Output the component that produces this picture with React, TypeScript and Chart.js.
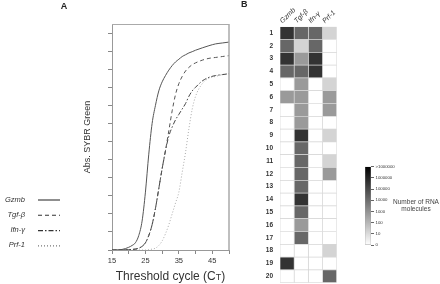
import React, { useEffect, useRef } from "react";
import { Chart, registerables } from "chart.js";

Chart.register(...registerables);

const FONT = "'Liberation Sans', Arial, sans-serif";

// ---- Panel A data ----
const cycles = [15, 18, 20, 21, 22, 23, 24, 25, 26, 27, 28, 29, 30, 31, 32, 33, 34, 35, 36, 37, 38, 39, 40, 42, 44, 46, 48, 50];
const gzmbCurve = [0, 0.03, 0.15, 0.25, 0.4, 0.8, 1.6, 3.2, 5.3, 7.0, 8.0, 8.8, 9.3, 9.65, 9.95, 10.2, 10.4, 10.55, 10.7, 10.8, 10.9, 10.97, 11.05, 11.18, 11.3, 11.4, 11.45, 11.5];
const tgfCurve = [0, 0, 0.02, 0.03, 0.05, 0.1, 0.2, 0.4, 0.8, 1.4, 2.3, 3.4, 4.5, 5.5, 6.6, 7.7, 8.6, 9.2, 9.6, 9.9, 10.1, 10.25, 10.35, 10.5, 10.6, 10.65, 10.7, 10.75];
const ifnCurve = [0, 0, 0.02, 0.03, 0.05, 0.1, 0.2, 0.4, 0.8, 1.4, 2.3, 3.4, 4.5, 5.5, 6.3, 6.8, 7.2, 7.5, 7.8, 8.1, 8.5, 8.8, 9.0, 9.35, 9.55, 9.65, 9.7, 9.75];
const prfCurve = [0, 0, 0, 0, 0, 0, 0, 0, 0.02, 0.05, 0.1, 0.25, 0.5, 0.9, 1.4, 2.0, 2.6, 3.2, 4.3, 5.4, 6.7, 7.8, 8.5, 9.2, 9.5, 9.6, 9.7, 9.75];
const seriesNames = ["Gzmb", "Tgf-β", "Ifn-γ", "Prf-1"];
const xTicks = [15, 20, 25, 30, 35, 40, 45, 50];
const xTickLabels = [15, 25, 35, 45];
const yTicks = [0, 1, 2, 3, 4, 5, 6, 7, 8, 9, 10, 11, 12];
const xTitle = "Threshold cycle (C";
const xTitleSub = "T";
const yTitle = "Abs. SYBR Green";

// ---- Panel B data (number of RNA molecules) ----
const sampleRows = ["1", "2", "3", "4", "5", "6", "7", "8", "9", "10", "11", "12", "13", "14", "15", "16", "17", "18", "19", "20"];
const genes = ["Gzmb", "Tgf-β", "Ifn-γ", "Prf-1"];
const gzmbRNA = [400000, 15000, 400000, 15000, 0, 600, 0, 0, 0, 0, 0, 0, 0, 0, 0, 0, 0, 0, 400000, 0];
const tgfRNA = [15000, 15, 600, 15000, 600, 600, 600, 600, 400000, 15000, 15000, 15000, 15000, 400000, 15000, 600, 15000, 0, 0, 0];
const ifnRNA = [15000, 15000, 400000, 400000, 0, 0, 0, 0, 0, 0, 0, 0, 0, 0, 0, 0, 0, 0, 0, 0];
const prfRNA = [15, 0, 0, 0, 15, 600, 600, 0, 15, 0, 15, 600, 0, 0, 0, 0, 0, 15, 0, 15000];
const colorbarLabels = ["0", "10", "100", "1000", "10000", "100000", "1000000", ">1000000"];
const colorbarTitle = ["Number of RNA", "molecules"];

const LEVELS = colorbarLabels.length - 1;

function grayFor(count: number): string {
  const lvl = count <= 0 ? 0 : Math.min(LEVELS, Math.log10(count));
  const g = Math.round(255 * (1 - lvl / LEVELS));
  return `rgb(${g},${g},${g})`;
}

const lineStyles = [
  { color: "#555", dash: [] as number[], legend: "#333" },
  { color: "#555", dash: [4, 3], legend: "#333" },
  { color: "#444", dash: [5, 2, 1.5, 2], legend: "#333" },
  { color: "#aaa", dash: [1, 2], legend: "#777" },
];

export default function App() {
  const aRef = useRef<HTMLCanvasElement>(null);
  const bRef = useRef<HTMLCanvasElement>(null);
  const cRef = useRef<HTMLCanvasElement>(null);

  useEffect(() => {
    const curves = [gzmbCurve, tgfCurve, ifnCurve, prfCurve];

    const panelAText = {
      id: "panelAText",
      afterDraw(chart: any) {
        const ctx = chart.ctx;
        const area = chart.chartArea;
        ctx.save();
        ctx.strokeStyle = "#aaa";
        ctx.lineWidth = 1;
        ctx.beginPath();
        ctx.moveTo(area.left, area.top + 0.5);
        ctx.lineTo(area.right, area.top + 0.5);
        ctx.stroke();
        ctx.lineWidth = 1.5;
        ctx.beginPath();
        ctx.moveTo(area.right, area.top);
        ctx.lineTo(area.right, area.bottom);
        ctx.stroke();

        ctx.fillStyle = "#222";
        ctx.textAlign = "center";
        ctx.textBaseline = "middle";
        ctx.font = `bold 9px ${FONT}`;
        ctx.fillText("A", 64, 7);

        ctx.save();
        ctx.translate(88, (area.top + area.bottom) / 2);
        ctx.rotate(-Math.PI / 2);
        ctx.font = `9px ${FONT}`;
        ctx.fillStyle = "#333";
        ctx.fillText(yTitle, 0, 0);
        ctx.restore();

        ctx.font = `12px ${FONT}`;
        const w1 = ctx.measureText(xTitle).width;
        ctx.font = `9px ${FONT}`;
        const w2 = ctx.measureText(xTitleSub).width;
        ctx.font = `12px ${FONT}`;
        const w3 = ctx.measureText(")").width;
        const total = w1 + w2 + w3;
        let x = (area.left + area.right) / 2 - total / 2;
        const yb = 280;
        ctx.textAlign = "left";
        ctx.textBaseline = "alphabetic";
        ctx.fillStyle = "#333";
        ctx.fillText(xTitle, x, yb);
        x += w1;
        ctx.font = `9px ${FONT}`;
        ctx.fillText(xTitleSub, x, yb);
        x += w2;
        ctx.font = `12px ${FONT}`;
        ctx.fillText(")", x, yb);

        chart.data.datasets.forEach((ds: any, i: number) => {
          const y = 199.5 + i * 15.3;
          ctx.font = `italic 7.5px ${FONT}`;
          ctx.textAlign = "right";
          ctx.textBaseline = "middle";
          ctx.fillStyle = "#333";
          ctx.fillText(ds.label, 25, y);
          ctx.strokeStyle = lineStyles[i].legend;
          ctx.lineWidth = 1.1;
          ctx.setLineDash(ds.borderDash || []);
          ctx.beginPath();
          ctx.moveTo(38, y + 0.5);
          ctx.lineTo(60, y + 0.5);
          ctx.stroke();
          ctx.setLineDash([]);
        });
        ctx.restore();
      },
    };

    const chartA = new Chart(aRef.current!, {
      type: "line",
      data: {
        datasets: seriesNames.map((name, i) => ({
          label: name,
          data: cycles.map((c, k) => ({ x: c, y: curves[i][k] })),
          borderColor: lineStyles[i].color,
          borderDash: lineStyles[i].dash,
          borderWidth: 1,
          pointRadius: 0,
          fill: false,
          cubicInterpolationMode: "monotone",
        })),
      },
      options: {
        animation: false,
        responsive: false,
        maintainAspectRatio: false,
        events: [],
        layout: { padding: { left: 0, top: 24, right: 11, bottom: 0 } },
        plugins: { legend: { display: false }, tooltip: { enabled: false } },
        scales: {
          x: {
            type: "linear",
            min: 15,
            max: 50,
            afterBuildTicks: (s: any) => {
              s.ticks = xTicks.map((v) => ({ value: v }));
            },
            afterFit: (s: any) => {
              s.height = 34;
              s.paddingLeft = 0;
              s.paddingRight = 0;
            },
            ticks: {
              autoSkip: false,
              maxRotation: 0,
              padding: 2,
              color: "#333",
              font: { size: 7.5, family: FONT },
              callback: (v: any) => (xTickLabels.includes(Number(v)) ? String(v) : ""),
            },
            grid: { drawOnChartArea: false, tickLength: 4, color: "#888" },
            border: { color: "#999" },
          },
          y: {
            type: "linear",
            min: 0,
            max: 12.5,
            afterBuildTicks: (s: any) => {
              s.ticks = yTicks.map((v) => ({ value: v }));
            },
            afterFit: (s: any) => {
              s.width = 112;
              s.paddingTop = 0;
              s.paddingBottom = 0;
            },
            ticks: { display: false },
            grid: { drawOnChartArea: false, tickLength: 4, color: "#888" },
            border: { color: "#999" },
          },
        },
      } as any,
      plugins: [panelAText],
    });

    const heat = [gzmbRNA, tgfRNA, ifnRNA, prfRNA];
    const panelBText = {
      id: "panelBText",
      afterDraw(chart: any) {
        const ctx = chart.ctx;
        ctx.save();
        ctx.fillStyle = "#222";
        ctx.font = `bold 9px ${FONT}`;
        ctx.textAlign = "left";
        ctx.textBaseline = "middle";
        ctx.fillText("B", 1, 5);
        ctx.restore();
      },
    };

    const chartB = new Chart(bRef.current!, {
      type: "bar",
      data: {
        labels: sampleRows,
        datasets: genes.map((g, gi) => ({
          label: g,
          data: sampleRows.map(() => [gi, gi + 1]),
          backgroundColor: heat[gi].map(grayFor),
          borderColor: "#d6d6d6",
          borderWidth: 0.7,
          borderSkipped: false,
          grouped: false,
          barPercentage: 1,
          categoryPercentage: 1,
        })),
      },
      options: {
        indexAxis: "y",
        animation: false,
        responsive: false,
        maintainAspectRatio: false,
        events: [],
        layout: { padding: { left: 0, top: 0, right: 103.3, bottom: 1.3 } },
        plugins: { legend: { display: false }, tooltip: { enabled: false } },
        scales: {
          x: {
            type: "linear",
            position: "top",
            min: 0,
            max: 4,
            afterBuildTicks: (s: any) => {
              s.ticks = genes.map((_, i) => ({ value: i + 0.5 }));
            },
            afterFit: (s: any) => {
              s.height = 26.7;
              s.paddingLeft = 0;
              s.paddingRight = 0;
            },
            ticks: {
              autoSkip: false,
              minRotation: 45,
              maxRotation: 45,
              padding: 1.5,
              color: "#333",
              font: { size: 7, style: "italic", family: FONT },
              callback: (_v: any, i: number) => genes[i],
            },
            grid: { display: false, drawTicks: false, tickLength: 0 },
            border: { display: false },
          },
          y: {
            type: "category",
            afterFit: (s: any) => {
              s.width = 40;
              s.paddingTop = 0;
              s.paddingBottom = 0;
            },
            ticks: {
              autoSkip: false,
              padding: 7,
              color: "#333",
              font: { size: 6.5, weight: "bold", family: FONT },
            },
            grid: { display: false, drawTicks: false, tickLength: 0 },
            border: { display: false },
          },
        },
      } as any,
      plugins: [panelBText],
    });

    const colorbarText = {
      id: "colorbarText",
      afterDraw(chart: any) {
        const ctx = chart.ctx;
        ctx.save();
        ctx.fillStyle = "#444";
        ctx.font = `6.5px ${FONT}`;
        ctx.textAlign = "center";
        ctx.textBaseline = "middle";
        ctx.fillText(colorbarTitle[0], 56, 42.3);
        ctx.fillText(colorbarTitle[1], 56, 49.3);
        ctx.restore();
      },
    };

    const chartC = new Chart(cRef.current!, {
      type: "bar",
      data: {
        labels: [""],
        datasets: [
          {
            label: "scale",
            data: [[0, LEVELS]],
            backgroundColor: (c: any) => {
              const area = c.chart.chartArea;
              if (!area) return "#888";
              const g = c.chart.ctx.createLinearGradient(0, area.bottom, 0, area.top);
              for (let k = 1; k <= LEVELS; k++) {
                g.addColorStop(k / LEVELS, grayFor(Math.pow(10, k)));
              }
              g.addColorStop(0, "#ffffff");
              return g;
            },
            borderColor: "#999",
            borderWidth: 0.6,
            borderSkipped: false,
            barPercentage: 1,
            categoryPercentage: 1,
          },
        ],
      },
      options: {
        animation: false,
        responsive: false,
        maintainAspectRatio: false,
        events: [],
        layout: { padding: { left: 5, top: 6.7, right: 0, bottom: 5 } },
        plugins: { legend: { display: false }, tooltip: { enabled: false } },
        scales: {
          x: { display: false },
          y: {
            type: "linear",
            position: "right",
            min: 0,
            max: LEVELS,
            afterBuildTicks: (s: any) => {
              s.ticks = colorbarLabels.map((_, i) => ({ value: i }));
            },
            afterFit: (s: any) => {
              s.width = 69;
              s.paddingTop = 0;
              s.paddingBottom = 0;
            },
            ticks: {
              padding: 1.5,
              color: "#333",
              font: { size: 4.3, family: FONT },
              callback: (v: any) => colorbarLabels[Math.round(Number(v))],
            },
            grid: { drawOnChartArea: false, tickLength: 3, color: "#666" },
            border: { display: false },
          },
        },
      } as any,
      plugins: [colorbarText],
    });

    return () => {
      chartA.destroy();
      chartB.destroy();
      chartC.destroy();
    };
  }, []);

  return (
    <div style={{ position: "absolute", left: 0, top: 0, width: 440, height: 284, background: "#fff", overflow: "hidden" }}>
      <canvas ref={aRef} width={240} height={284} style={{ position: "absolute", left: 0, top: 0, width: 240, height: 284 }} />
      <canvas ref={bRef} width={200} height={284} style={{ position: "absolute", left: 240, top: 0, width: 200, height: 284 }} />
      <canvas ref={cRef} width={80} height={90} style={{ position: "absolute", left: 360, top: 160, width: 80, height: 90 }} />
    </div>
  );
}
